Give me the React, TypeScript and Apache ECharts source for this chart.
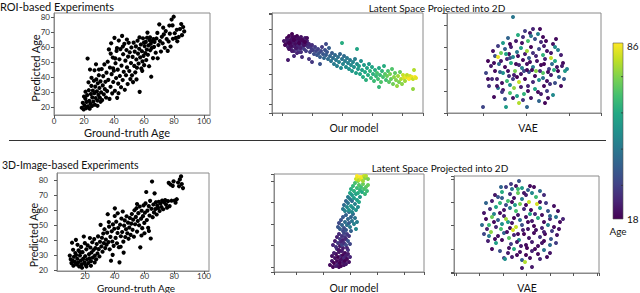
import React, { useEffect, useRef } from 'react';
import * as echarts from 'echarts';

// ---------- Data ----------
// ROI-based experiments: [ground-truth age, predicted age]
const roiPoints: number[][] = [
  [18.5,19.5],[19.2,22.8],[19.8,18.4],[20.3,21.1],[20.9,25.6],[21.4,19.2],[21.7,23.4],[22.1,27.9],[22.4,52.3],[22.6,20.5],[23.2,31.2],[23.5,24.1],[23.8,18.9],[24.3,22.2],[24.6,28.7],[24.9,34.1],[25.3,20.7],[25.5,26.4],[25.9,31.0],[26.2,23.6],[26.6,37.5],[26.9,29.2],[27.3,21.5],[27.5,33.6],[27.8,26.0],[28.2,38.4],[28.6,30.4],[28.9,24.3],[29.2,35.8],[29.6,28.1],[29.9,41.2],[30.3,32.7],[30.6,26.2],[31.0,37.1],[31.4,29.8],[31.8,45.3],[32.1,24.6],[32.5,34.4],[32.8,40.6],[33.2,28.5],[33.6,48.4],[33.9,31.9],[34.3,36.8],[34.7,26.3],[35.0,42.9],[35.4,30.6],[35.8,50.2],[21.0,30.2],[23.0,36.5],[20.0,27.0],[25.0,39.5],[27.0,44.5],[29.0,20.8],[31.0,23.5],[24.0,45.0],[28.0,48.5],[30.0,45.0],
  [36.2,38.1],[36.6,58.4],[37.0,25.4],[37.3,46.3],[37.7,33.5],[38.1,62.5],[38.4,41.9],[38.8,29.1],[39.2,53.0],[39.5,36.7],[39.9,44.2],[40.3,66.1],[40.6,30.8],[41.0,49.2],[41.4,39.3],[41.7,57.4],[42.1,26.1],[42.5,44.9],[42.8,35.6],[43.2,64.3],[43.6,51.8],[43.9,40.7],[44.3,58.6],[44.7,33.2],[45.0,47.6],[45.4,67.4],[45.8,38.0],[46.1,55.2],[46.5,43.5],[46.9,62.1],[47.2,31.5],[47.6,50.9],[48.0,41.2],[48.3,58.0],[48.7,46.4],[49.1,35.3],[49.4,53.6],[49.8,62.8],[50.2,44.0],[50.5,56.5],[50.9,38.6],[37.8,55.6],[40.8,52.4],[43.0,29.2],[45.9,60.3],[48.6,65.0],[39.4,45.8],[42.0,59.3],
  [51.3,49.3],[51.6,59.7],[52.0,41.1],[52.4,53.4],[52.7,36.6],[53.1,62.9],[53.5,47.4],[53.8,56.9],[54.2,43.1],[54.6,60.4],[54.9,51.7],[55.3,46.2],[55.7,64.2],[56.0,55.6],[56.4,49.0],[56.8,58.8],[57.1,30.1],[57.5,53.1],[57.9,61.7],[58.2,45.7],[58.6,57.2],[59.0,50.4],[59.3,65.8],[59.7,54.1],[60.1,47.9],[60.4,60.6],[60.8,56.0],[61.2,63.4],[61.5,51.3],[61.9,58.3],[62.3,69.6],[62.6,54.8],[63.0,61.1],[63.4,47.2],[63.7,64.6],[64.1,57.8],[64.5,62.2],[64.8,40.2],[65.2,59.4],[65.6,63.9],[66.0,52.6],[55.0,38.4],[58.8,44.1],[62.0,66.2],[60.0,63.0],[57.0,66.4],[64.0,66.4],[66.3,65.3],
  [66.7,60.1],[67.0,63.4],[67.8,56.2],[68.3,65.7],[69.1,52.5],[69.6,61.3],[70.2,75.1],[70.6,64.0],[71.3,57.0],[71.9,66.8],[72.4,62.5],[73.2,68.4],[73.8,59.5],[74.5,70.6],[75.1,65.3],[75.8,57.4],[76.4,63.7],[77.2,68.9],[77.7,60.3],[78.4,78.3],[79.0,74.4],[79.3,65.5],[79.8,80.2],[80.5,69.2],[81.3,66.1],[82.2,63.8],[83.1,66.7],[84.0,72.0],[84.8,75.3],[85.3,67.9],[86.1,73.3],[86.8,70.4],[72.8,72.9],[76.9,74.3],[81.9,71.5],[68.9,69.4]
];

// 3D-image-based experiments: [ground-truth age, predicted age]
const imgPoints: number[][] = [
  [9.8,29.6],[10.4,27.1],[10.9,24.6],[11.3,38.2],[11.7,26.3],[12.2,22.9],[12.6,28.8],[13.1,25.4],[13.5,31.3],[13.9,40.1],[14.4,23.7],[14.8,27.5],[15.3,24.9],[15.7,33.1],[16.1,22.4],[16.6,29.7],[17.0,26.2],[17.4,35.4],[17.9,23.8],[18.3,31.9],[18.7,27.4],[19.2,42.3],[19.6,25.1],[20.1,29.2],[20.5,23.3],[20.9,33.8],[21.4,27.0],[21.8,36.4],[22.2,24.6],[22.7,30.5],[23.1,27.8],[23.6,35.0],[24.0,25.9],[24.4,31.7],[24.9,38.5],[25.3,28.3],[25.7,33.3],[26.2,40.6],[26.6,29.5],[27.0,34.6],[27.5,27.1],[27.9,37.3],[28.4,31.0],[28.8,42.4],[29.2,33.9],[29.7,29.0],[30.1,38.8],[30.5,50.1],[12.0,33.5],[15.0,36.8],[18.0,21.5],[21.0,22.3],[24.0,22.8],[26.5,25.0],[14.0,30.0],[16.8,31.8],[19.9,37.9],[23.3,41.3],
  [31.0,35.7],[31.4,41.5],[31.8,32.2],[32.3,44.3],[32.7,37.9],[33.1,47.2],[33.6,34.6],[34.0,40.3],[34.5,36.9],[34.9,44.9],[35.3,57.2],[35.8,38.6],[36.2,48.9],[36.6,33.8],[37.1,42.1],[37.5,26.2],[38.0,45.8],[38.4,39.0],[38.8,50.4],[39.3,36.1],[39.7,47.5],[40.1,61.1],[40.6,41.4],[41.0,52.2],[41.5,37.8],[41.9,44.7],[42.3,48.0],[42.8,35.2],[43.2,25.1],[43.6,50.2],[44.1,42.5],[44.5,54.3],[45.0,45.3],[45.4,59.0],[45.8,38.9],[46.3,49.6],[46.7,53.1],[47.1,42.0],[47.6,47.2],[48.0,55.8],[48.5,44.5],[48.9,51.6],[49.3,40.8],[49.8,48.3],[50.2,54.7],[36.0,52.0],[40.0,56.0],[44.0,35.5],[46.0,31.6],[42.0,57.8],[38.6,30.1],
  [50.7,43.4],[51.1,50.9],[51.5,57.3],[52.0,46.8],[52.4,53.6],[52.9,42.2],[53.3,59.8],[53.7,50.5],[54.2,55.4],[54.6,61.2],[55.0,45.6],[55.5,52.7],[55.9,57.9],[56.4,49.8],[56.8,62.3],[57.2,35.1],[57.7,54.2],[58.1,59.5],[58.5,47.9],[59.0,55.9],[59.4,63.1],[59.9,51.4],[60.3,58.2],[60.7,64.4],[61.2,72.0],[61.6,53.3],[62.0,59.6],[62.5,48.1],[62.9,62.6],[63.4,56.3],[63.8,66.1],[64.2,41.0],[64.7,60.8],[65.1,79.0],[65.5,55.2],[66.0,63.7],[66.4,58.4],[66.8,71.1],[67.3,60.6],[67.7,65.2],[68.2,57.0],[68.6,63.0],[60.0,44.5],[55.0,64.0],[58.0,43.0],[63.0,46.0],
  [69.1,61.4],[69.6,65.5],[70.2,59.3],[70.8,64.3],[71.4,62.0],[71.9,66.3],[72.6,60.5],[73.2,65.1],[73.9,66.6],[74.5,63.6],[75.2,61.5],[75.8,65.9],[76.3,78.1],[76.9,62.6],[77.5,77.0],[78.2,66.2],[79.0,76.1],[79.6,79.1],[80.3,66.3],[80.9,64.9],[81.7,67.2],[82.6,78.3],[83.8,80.4],[84.6,82.4],[85.1,77.3],[85.9,74.6],[83.3,75.8]
];

// Latent space, ROI, our model: [dim1, dim2, age]
const roiOursLatent: number[][] = [
  [2,63,22],[4,60,20],[5,66,19],[6,62,21],[6,57,24],[7,68,18],[8,64,20],[8,59,22],[9,55,25],[9,61,19],[10,66,21],[10,70,18],[11,58,23],[11,63,20],[12,53,26],[12,61,22],[13,67,19],[13,57,24],[14,64,21],[14,60,20],[15,55,27],[15,68,18],[16,62,23],[16,58,25],[17,65,19],[17,52,28],[18,60,22],[18,63,20],[19,56,26],[19,67,21],[20,61,24],[21,58,27],[21,64,22],[22,55,29],[22,62,20],[23,66,23],[24,59,25],[24,53,30],[25,63,24],[6,44,23],[12,48,26],[27,45,28],[20,47,27],
  [3,59,19],[5,64,22],[7,61,18],[9,58,20],[11,67,19],[12,64,18],[14,56,22],[16,66,20],[18,56,24],[20,64,19],[22,59,21],[23,62,18],[26,60,22],[28,58,24],[19,52,27],[15,51,25],[10,53,23],[25,66,20],[7,55,21],[17,61,18],
  [26,57,28],[27,60,26],[28,52,31],[29,56,29],[30,59,27],[31,54,33],[32,50,34],[33,57,30],[34,53,32],[35,49,36],[36,55,31],[37,51,35],[38,47,38],[39,53,33],[40,57,30],[41,50,36],[42,46,40],[43,54,34],[44,49,38],[45,52,36],[46,45,42],[30,42,29],[38,40,35],[47,56,38],[44,60,33],[30,54,30],
  [48,48,40],[49,43,44],[50,51,38],[51,46,42],[52,40,46],[53,49,41],[54,44,45],[55,38,47],[56,47,43],[57,42,48],[58,50,40],[59,36,50],[60,45,44],[61,40,49],[62,48,42],[63,43,47],[64,37,51],[65,46,45],[66,41,48],[67,35,52],[68,44,46],[69,39,50],[70,33,54],[71,42,49],[72,37,52],[73,45,47],[74,31,56],[75,40,51],[76,35,54],[60,61,60],[75,55,58],
  [77,38,55],[78,30,58],[79,43,52],[80,34,57],[81,27,60],[82,39,55],[83,32,59],[84,24,61],[85,36,57],[86,29,60],[87,40,54],[88,33,62],[89,26,63],[90,37,58],[91,30,61],[92,23,64],[93,34,60],[94,28,63],[95,31,66],[96,25,65],[97,36,59],[98,29,64],[99,22,67],[100,33,62],[101,27,66],[102,38,60],[103,30,68],[104,24,65],[97,17,63],
  [105,28,70],[106,33,66],[107,22,68],[108,30,72],[109,25,70],[110,35,67],[111,20,71],[112,27,74],[113,31,69],[114,24,73],[115,18,75],[116,28,76],[117,22,72],[118,32,70],[119,25,78],[120,20,74],[121,29,80],[122,26,82],[123,23,76],[124,27,84],[125,29,79],[126,26,83],[127,25,86],[128,28,81],[129,26,85],[130,27,84],[131,25,80],[132,34,78],[133,27,86],[134,26,83],[131,15,75]
];

// Latent space, ROI, VAE: [dim1, dim2, age]
const roiVaeLatent: number[][] = [
  [30,74,45],[42,60,30],[50,62,25],[35,56,60],[47,58,22],[55,57,48],[60,54,20],[25,53,40],[40,54,27],[52,52,35],[63,50,19],[20,48,55],[33,50,23],[45,50,66],[58,49,26],[70,47,21],[72,44,50],[15,45,30],
  [10,40,21],[22,42,38],[28,44,24],[38,43,56],[48,44,19],[56,42,33],[64,40,22],[75,41,47],[12,35,34],[18,38,70],[26,37,20],[34,39,45],[42,37,23],[50,38,28],[60,36,62],[68,33,80],[78,36,24],[5,30,19],[15,34,84],[24,32,26],[30,34,50],[40,31,20],[46,33,38],[54,30,22],[62,32,25],[72,30,58],[80,28,20],
  [8,25,23],[16,27,42],[22,24,20],[28,28,60],[36,26,25],[44,27,21],[50,24,46],[58,26,19],[66,22,30],[74,24,22],[82,20,55],[84,22,48],[3,18,32],[12,20,20],[20,18,52],[26,15,27],[32,20,72],[38,17,22],[46,19,35],[52,15,20],[60,18,68],[68,16,23],[76,14,40],[14,12,24],[24,10,64],[30,12,30],[36,9,80],[42,12,19],[50,9,26],[56,11,52],[64,10,21],[72,8,34],[78,5,20],
  [6,5,28],[15,3,45],[20,1,22],[27,-2,66],[31,3,75],[38,4,24],[45,0,21],[52,2,58],[58,-3,23],[64,0,30],[70,-4,50],[11,-6,20],[22,-8,36],[34,-5,56],[40,-9,28],[48,-7,22],[56,-10,40],[62,-12,19],
  [0,-16,32],[23,-16,55],[36,-12,78],[44,-16,40],
  [18,30,22],[27,33,35],[33,27,20],[39,23,48],[47,29,21],[53,35,25],[61,27,19],[69,27,42],[25,20,21],[31,16,24],[41,20,33],[49,21,20],[57,20,27],[65,19,20],[71,21,61],[79,25,23],[17,19,40],[9,12,26],[19,8,21],[27,6,50],[34,14,19],[45,5,25],[53,20,74],[61,5,20],[67,7,28],[75,20,19],[81,12,37],[11,28,20],[39,48,21],[61,45,23],[27,47,19],[57,62,20],[44,40,76],[35,35,20],[48,55,44],[68,38,22],[23,37,58],[73,52,20],[14,5,22],[55,-1,20],[41,-3,62],[30,-7,22],[60,13,44],[5,12,20],[19,-1,30],[65,-7,21],[44,21,20]
];

// Latent space, 3D image, our model: [dim1, dim2, age]
const imgOursLatent: number[][] = [
  [34,2,20],[36,6,22],[37,0,19],[38,4,18],[39,9,21],[40,1,23],[40,13,20],[41,6,19],[42,3,24],[42,10,18],[43,0,20],[43,15,22],[44,7,21],[44,4,18],[45,11,25],[45,1,19],[46,8,20],[46,16,23],[47,5,22],[47,12,19],[48,2,21],[48,9,26],[49,14,20],[49,6,18],[50,11,24],[50,3,22],[51,8,19],[52,13,23],[53,5,21],[54,10,25],[38,14,24],[36,11,21],[41,18,26],[47,19,23],[52,17,28],
  [37,22,25],[39,26,23],[40,20,27],[41,30,24],[42,24,29],[43,33,26],[44,21,22],[44,28,30],[45,25,25],[46,31,28],[46,22,31],[47,27,24],[48,34,32],[48,24,27],[49,30,29],[50,22,33],[50,28,26],[51,33,30],[52,26,35],[53,31,28],[54,23,32],[51,19,25],[43,17,21],
  [42,40,36],[43,44,33],[44,38,38],[45,47,35],[46,42,40],[47,50,37],[48,39,34],[49,45,42],[50,52,39],[50,37,36],[51,42,44],[52,48,41],[53,44,38],[53,55,43],[54,40,46],[55,50,40],[56,46,45],[57,53,42],[58,43,48],[59,49,44],[60,38,50],[47,36,33],[55,36,39],[61,45,47],
  [47,58,45],[48,62,42],[49,56,48],[50,66,40],[51,60,50],[52,64,44],[53,57,52],[54,68,47],[55,61,54],[56,66,42],[57,59,51],[58,69,55],[59,63,48],[60,57,53],[61,67,56],[62,60,50],[63,65,58],[64,70,54],[52,70,46],[56,55,49],
  [54,74,58],[55,78,60],[56,72,55],[57,81,63],[58,76,61],[59,84,66],[60,73,57],[61,79,64],[62,74,60],[63,82,68],[64,77,62],[65,80,65],[66,75,59],[67,83,70],[68,78,66],[69,73,63],[70,80,68],[71,76,64],[62,86,72],[72,82,70],
  [60,88,80],[61,91,86],[62,89,84],[63,87,78],[64,90,86],[65,88,82],[66,90,85],[67,86,76],[68,91,80],[69,89,74],[70,91,78],[72,88,72]
];

// Latent space, 3D image, VAE: [dim1, dim2, age]
const imgVaeLatent: number[][] = [
  [63,68,35],
  [50,62,30],[56,60,45],[60,63,22],[66,61,55],[72,59,38],[78,62,20],[84,58,42],[46,57,60],[54,55,28],[62,56,70],[70,54,24],[76,56,50],[88,54,27],[42,52,36],[58,51,21],[66,50,46],[80,52,64],
  [30,46,40],[36,48,24],[44,46,62],[50,44,34],[56,47,20],[64,45,72],[73,47,80],[81,45,82],[90,46,30],[98,43,21],[34,40,28],[40,42,58],[48,39,22],[54,41,45],[60,38,66],[68,40,26],[75,39,19],[84,41,54],[92,38,36],[28,36,22],[38,35,48],
  [30,30,20],[36,32,70],[42,29,38],[48,33,24],[52,27,55],[58,31,19],[64,29,42],[70,32,21],[76,28,23],[82,31,60],[88,27,20],[94,30,26],[100,32,44],[104,27,20],[33,24,64],[40,22,26],[46,25,52],[54,21,20],[60,22,80],[66,24,34],[72,20,22],[78,23,19],[86,21,25],[92,24,48],[98,22,20],
  [28,15,32],[35,17,74],[42,13,21],[48,16,40],[53,11,68],[58,14,25],[63,9,50],[68,15,19],[73,11,22],[78,16,20],[84,12,28],[89,15,19],[95,10,36],[101,14,22],[32,8,24],[40,6,56],[46,9,20],[55,5,30],[61,7,22],[70,4,20],[76,7,24],[82,3,21],[88,8,19],[94,4,42],[100,6,30],
  [36,0,20],[44,-2,34],[52,-4,23],[58,0,60],[64,-3,21],[70,-6,19],[76,-2,25],[82,-5,20],[88,-1,44],[94,-4,22],[48,-9,30],[56,-8,24],[66,-11,38],[74,-9,21],[84,-10,26],[49,-10,52],
  [66,-19,22],[76,-18,23],[69,-13,78],
  [39,54,22],[45,62,40],[52,48,66],[70,44,20],[79,35,26],[86,34,21],[62,34,23],[44,36,20],[50,30,76],[56,26,22],[62,15,20],[67,19,24],[72,27,20],[80,19,21],[88,17,24],[74,35,58],[96,18,30],[103,20,21],[38,27,20],[26,24,42],[31,20,24],[45,20,66],[51,17,21],[57,19,82],[91,-8,20],[86,6,22],[79,0,20],[71,1,19],[65,3,23],[61,-6,20],[53,1,21],[39,10,20],[33,13,46],[59,44,56],[68,56,22],[84,47,21],[94,33,40],[102,38,20],[107,30,25],[46,51,38],[62,60,64],[74,63,20],[55,65,30]
];

const ageMin = 18;
const ageMax = 86;
const colorbarTicks = [31, 45, 59, 73];
const viridis = ['#440154', '#482475', '#414487', '#355f8d', '#2a788e', '#21918c', '#22a884', '#44bf70', '#7ad151', '#bddf26', '#fde725'];

const FONT = 'Lato';

export default function App() {
  const ref = useRef<HTMLDivElement>(null);
  useEffect(() => {
    const chart = echarts.init(ref.current!, null, { renderer: 'svg' });

    const grids = [
      { left: 54, top: 13, width: 156, height: 102 },
      { left: 57, top: 173, width: 152, height: 98 },
      { left: 272, top: 13, width: 151, height: 100 },
      { left: 447, top: 13, width: 154, height: 100 },
      { left: 274, top: 174, width: 150, height: 98 },
      { left: 454, top: 176, width: 145, height: 97 },
    ].map((g) => ({ ...g, show: true, borderColor: '#8a8a8a', borderWidth: 1, backgroundColor: 'transparent' }));

    const axis = (
      gridIndex: number, min: number, max: number, step: number,
      labels: boolean, margin: number, extra: any = {}
    ) => ({
      type: 'value', gridIndex, min, max, minInterval: step, maxInterval: step,
      splitLine: { show: false },
      axisLine: { show: true, onZero: false, lineStyle: { color: '#8a8a8a', width: 1 } },
      axisTick: { show: true, inside: false, length: 3, lineStyle: { color: '#555', width: 1 } },
      axisLabel: {
        show: labels, fontSize: 8, color: '#333', fontFamily: FONT, margin,
        showMinLabel: false, showMaxLabel: false, ...extra,
      },
    });

    const xAxes = [
      axis(0, 0, 104, 20, true, 2, { showMinLabel: true }),
      axis(1, 1.18, 103.4, 20, true, 1),
      axis(2, -10, 141, 30, false, 2),
      axis(3, -36, 118, 43, false, 2),
      axis(4, -22, 128, 27, false, 2),
      axis(5, -2, 143, 23.5, false, 2),
    ];
    const yAxes = [
      axis(0, 14.67, 82.67, 10, true, 4),
      axis(1, 19.33, 84.67, 10, true, 9),
      axis(2, -9, 91, 15, false, 2),
      axis(3, -22, 78, 22, false, 2),
      axis(4, -5, 93, 21.5, false, 2),
      axis(5, -24, 73, 23.3, false, 2),
    ];

    const blackSeries = (idx: number, data: number[][]) => ({
      type: 'scatter', xAxisIndex: idx, yAxisIndex: idx, data,
      symbolSize: 4.2, itemStyle: { color: '#000', opacity: 1 }, silent: true,
    });
    const colorSeries = (idx: number, data: number[][]) => ({
      type: 'scatter', xAxisIndex: idx, yAxisIndex: idx, data,
      symbolSize: 4, itemStyle: { opacity: 1 }, silent: true,
    });

    const text = (t: string, x: number, y: number, size: number, align = 'center', extra: any = {}) => ({
      type: 'text', x, y, silent: true, ...extra,
      style: { text: t, fontSize: size, fontFamily: FONT, fill: '#111', align, verticalAlign: 'middle' },
    });

    const gradStops = viridis.map((c, i) => ({ offset: i / (viridis.length - 1), color: c }));

    // colour bar geometry
    const cbX = 613, cbTop = 43, cbW = 10, cbH = 176;
    const cbTickMarks = colorbarTicks.map((v) => {
      const y = cbTop + cbH - ((v - ageMin) / (ageMax - ageMin)) * cbH;
      return {
        type: 'line', silent: true,
        shape: { x1: cbX + cbW - 2, y1: y, x2: cbX + cbW, y2: y },
        style: { stroke: '#333', lineWidth: 0.8 },
      };
    });

    chart.setOption({
      animation: false,
      backgroundColor: '#fff',
      grid: grids,
      xAxis: xAxes,
      yAxis: yAxes,
      visualMap: {
        type: 'continuous', show: false, min: ageMin, max: ageMax, dimension: 2,
        seriesIndex: [2, 3, 4, 5], inRange: { color: viridis },
      },
      series: [
        blackSeries(0, roiPoints),
        blackSeries(1, imgPoints),
        colorSeries(2, roiOursLatent),
        colorSeries(3, roiVaeLatent),
        colorSeries(4, imgOursLatent),
        colorSeries(5, imgVaeLatent),
      ],
      graphic: [
        text('ROI-based Experiments', 0, 6, 11, 'left'),
        text('3D-Image-based Experiments', 2, 165, 10.5, 'left'),
        text('Latent Space Projected into 2D', 437, 8, 10),
        text('Latent Space Projected into 2D', 440, 168, 10),
        text('Our model', 354, 128, 10.5),
        text('VAE', 528, 128, 10.5),
        text('Our model', 354, 287.5, 10.5),
        text('VAE', 527, 287.5, 10.5),
        text('Predicted Age', 35, 68, 11, 'center', { rotation: Math.PI / 2 }),
        text('Ground-truth Age', 127, 132, 11),
        text('Predicted Age', 34, 235, 10.5, 'center', { rotation: Math.PI / 2 }),
        text('Ground-truth Age', 136, 287.8, 10),
        text(String(ageMax), 627, 46, 10, 'left'),
        text(String(ageMin), 627, 219, 10, 'left'),
        text('Age', 618, 231, 10),
        {
          type: 'line', silent: true,
          shape: { x1: 9, y1: 140.5, x2: 606, y2: 140.5 },
          style: { stroke: '#333', lineWidth: 1 },
        },
        {
          type: 'rect', silent: true,
          shape: { x: cbX, y: cbTop, width: cbW, height: cbH },
          style: {
            fill: { type: 'linear', x: 0, y: 1, x2: 0, y2: 0, colorStops: gradStops },
            stroke: '#555', lineWidth: 0.6,
          },
        },
        ...cbTickMarks,
      ],
    });
    return () => chart.dispose();
  }, []);
  return (
    <div
      ref={ref}
      style={{ position: 'fixed', left: 0, top: 0, width: 640, height: 293, background: '#fff' }}
    />
  );
}
